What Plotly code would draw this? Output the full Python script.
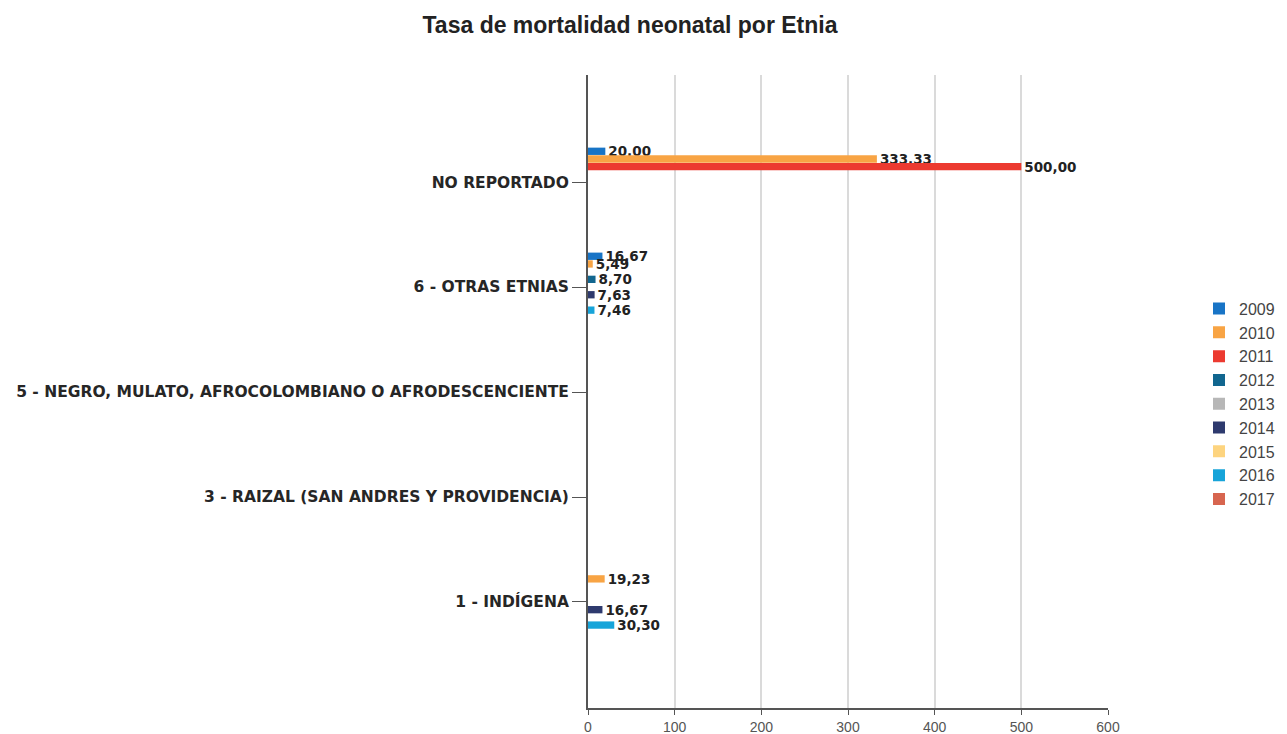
import plotly.graph_objects as go

# categories, top to bottom as in the chart
etnias = [
    "NO REPORTADO",
    "6 - OTRAS ETNIAS",
    "5 - NEGRO, MULATO, AFROCOLOMBIANO O AFRODESCENCIENTE",
    "3 - RAIZAL (SAN ANDRES Y PROVIDENCIA)",
    "1 - INDÍGENA",
]

years = ["2009", "2010", "2011", "2012", "2013", "2014", "2015", "2016", "2017"]

# tasa per year, one value per etnia (None = no bar)
tasa_2009 = [20.00, 16.67, None, None, None]
tasa_2010 = [333.33, 5.49, None, None, 19.23]
tasa_2011 = [500.00, None, None, None, None]
tasa_2012 = [None, 8.70, None, None, None]
tasa_2013 = [None, None, None, None, None]
tasa_2014 = [None, 7.63, None, None, 16.67]
tasa_2015 = [None, None, None, None, None]
tasa_2016 = [None, 7.46, None, None, 30.30]
tasa_2017 = [None, None, None, None, None]

series = [tasa_2009, tasa_2010, tasa_2011, tasa_2012, tasa_2013,
          tasa_2014, tasa_2015, tasa_2016, tasa_2017]

colors = ["#1874c6", "#f8a444", "#ec3a30", "#11668f", "#b7b7b7",
          "#2e3a6e", "#fdd47f", "#17a4d9", "#d7654f"]

fig = go.Figure()
for year, vals, col in zip(years, series, colors):
    fig.add_trace(go.Bar(
        x=vals,
        y=etnias,
        name=year,
        orientation="h",
        marker=dict(color=col, line=dict(width=0)),
        legendgroup=year,
        texttemplate="%{x:.2f}",
        textposition="outside",
        constraintext="none",
        cliponaxis=False,
        textfont=dict(family="DejaVu Sans", size=13.5, color="#222222", weight="bold"),
    ))

# page body adds an 8px margin, so the figure is a bit smaller than the window
fig.update_layout(
    width=1279,
    height=726,
    barmode="group",
    bargap=0.34,
    bargroupgap=0.05,
    separators=",.",
    plot_bgcolor="white",
    paper_bgcolor="white",
    margin=dict(l=580, r=179, t=67, b=26, autoexpand=False),
    title=dict(
        text="<b>Tasa de mortalidad neonatal por Etnia</b>",
        font=dict(family="Liberation Sans", size=23, color="#222222"),
        x=622 / 1279, xanchor="center", xref="container",
        y=0.977, yanchor="middle",
    ),
    legend=dict(
        x=1.175, xanchor="left",
        y=0.48, yanchor="middle",
        font=dict(family="Liberation Sans", size=16, color="#444444"),
        tracegroupgap=0,
        bgcolor="rgba(0,0,0,0)",
    ),
    xaxis=dict(
        range=[0, 600],
        tickvals=[0, 100, 200, 300, 400, 500, 600],
        showgrid=True,
        gridcolor="#dadada",
        gridwidth=2,
        zeroline=False,
        showline=True,
        linecolor="#555555",
        linewidth=2,
        ticks="outside",
        ticklen=5,
        tickcolor="#555555",
        tickfont=dict(family="Liberation Sans", size=14, color="#555555"),
    ),
    yaxis=dict(
        type="category",
        categoryorder="array",
        categoryarray=etnias,
        range=[5.01, -1.02],
        showgrid=False,
        zeroline=False,
        showline=True,
        linecolor="#555555",
        linewidth=2,
        ticks="outside",
        ticklen=14,
        tickcolor="#555555",
        tickfont=dict(family="DejaVu Sans", size=15.5, color="#262626", weight="bold"),
    ),
)

fig.write_html("out.html")
